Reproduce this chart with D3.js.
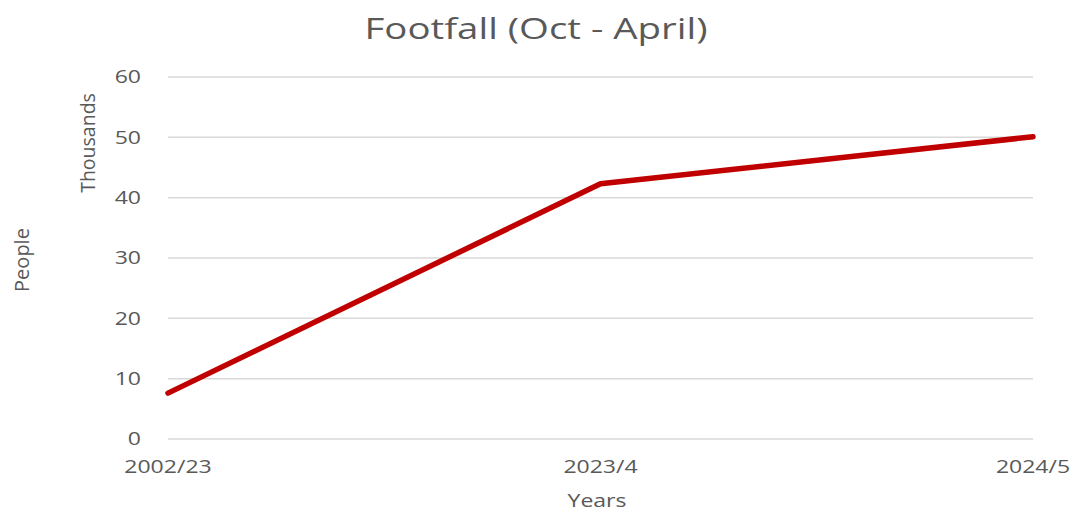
<!DOCTYPE html>
<html>
<head>
<meta charset="utf-8">
<script src="https://cdn.jsdelivr.net/npm/d3@7"></script>
<style>
  body { margin: 0; background: #fff; }
  svg text { font-family: "Open Sans", sans-serif; fill: #595959; }
</style>
</head>
<body>
<svg id="chart" width="1073" height="514"></svg>
<script>
const years = ['2002/23', '2023/4', '2024/5']
const footfall = [7.6, 42.3, 50.1]   // thousands of people
const yTicks = [0, 10, 20, 30, 40, 50, 60]

const margin = {top: 77, right: 40, bottom: 75, left: 168}
const width = 1073, height = 514
const stretch = 1.28   // text in the picture is wider than it is tall

const svg = d3.select('#chart')

const x = d3.scalePoint()
  .domain(years)
  .range([margin.left, width - margin.right])
  .padding(0)

const y = d3.scaleLinear()
  .domain([0, 60])
  .range([height - margin.bottom, margin.top])

// gridlines
svg.append('g')
  .selectAll('line')
  .data(yTicks)
  .enter()
  .append('line')
  .attr('x1', margin.left)
  .attr('x2', width - margin.right)
  .attr('y1', d => y(d))
  .attr('y2', d => y(d))
  .attr('stroke', '#d9d9d9')
  .attr('stroke-width', 1.5)

// y tick labels
svg.append('g')
  .selectAll('text')
  .data(yTicks)
  .enter()
  .append('text')
  .attr('transform', d => `translate(141,${y(d)}) scale(${stretch},1)`)
  .attr('dy', '0.35em')
  .attr('text-anchor', 'end')
  .style('font-size', '18px')
  .text(d => d)

// x tick labels
svg.append('g')
  .selectAll('text')
  .data(years)
  .enter()
  .append('text')
  .attr('transform', d => `translate(${x(d)},467) scale(${stretch},1)`)
  .attr('dy', '0.35em')
  .attr('text-anchor', 'middle')
  .style('font-size', '18px')
  .text(d => d)

// the line
const line = d3.line()
  .x((d, i) => x(years[i]))
  .y(d => y(d))

svg.append('path')
  .datum(footfall)
  .attr('d', line)
  .attr('fill', 'none')
  .attr('stroke', '#c00000')
  .attr('stroke-width', 5.5)
  .attr('stroke-linecap', 'round')
  .attr('stroke-linejoin', 'round')

// titles
svg.append('text')
  .attr('transform', `translate(536,28) scale(${stretch},1)`)
  .attr('dy', '0.35em')
  .attr('text-anchor', 'middle')
  .style('font-size', '30px')
  .text('Footfall (Oct - April)')

svg.append('text')
  .attr('transform', `translate(597,501) scale(${stretch},1)`)
  .attr('dy', '0.35em')
  .attr('text-anchor', 'middle')
  .style('font-size', '18px')
  .text('Years')

svg.append('text')
  .attr('transform', 'translate(22,260) rotate(-90)')
  .attr('dy', '0.35em')
  .attr('text-anchor', 'middle')
  .style('font-size', '20px')
  .text('People')

svg.append('text')
  .attr('transform', 'translate(88,143) rotate(-90)')
  .attr('dy', '0.35em')
  .attr('text-anchor', 'middle')
  .style('font-size', '19.5px')
  .text('Thousands')
</script>
</body>
</html>
